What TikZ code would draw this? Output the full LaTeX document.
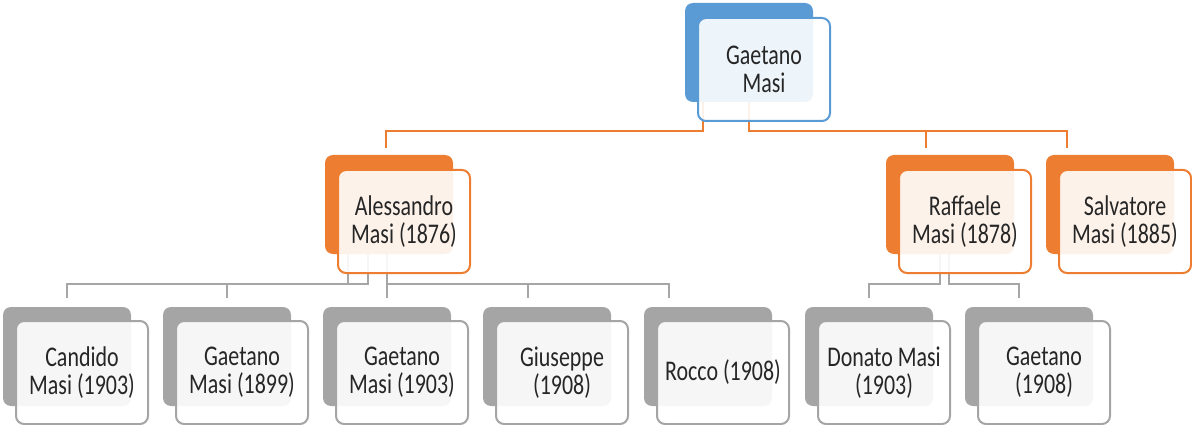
\documentclass[tikz,border=0pt]{standalone}
\usepackage{fontspec}
\setmainfont{Carlito}[FakeStretch=0.77]
\usetikzlibrary{calc}
\definecolor{cblue}{HTML}{5B9BD5}
\definecolor{corange}{HTML}{ED7D31}
\definecolor{cgray}{HTML}{A5A5A5}
\definecolor{cline}{HTML}{A6A6A6}
\definecolor{txt}{HTML}{262626}
\pgfdeclarelayer{background}
\pgfsetlayers{background,main}
\tikzset{
  backbox/.style={draw=none, fill=#1, rounded corners=8pt, minimum width=128pt,
    minimum height=99pt, inner sep=0pt, outer sep=0pt, anchor=north west},
  frontbox/.style={draw=#1, line width=2pt, fill=white, fill opacity=0.9, text opacity=1,
    rounded corners=8pt, minimum width=132pt, minimum height=103pt, inner sep=0pt,
    outer sep=0pt, anchor=north west, align=center, text=txt,
    font=\fontsize{28.5}{28.3}\selectfont},
  oline/.style={draw=corange, line width=2.3pt},
  gline/.style={draw=cline, line width=2.5pt},
}
\begin{document}
\begin{tikzpicture}[x=1pt,y=-1pt]
\useasboundingbox (0,0) rectangle (1192,425);
% top
\node[backbox=cblue] (tb) at (685,3) {};
\node[frontbox=cblue] (t) at (698,18) {Gaetano\\Masi};
% level 1
\node[backbox=corange] (ab) at (325,155) {};
\node[frontbox=corange] (a) at (338,170) {Alessandro\\Masi (1876)};
\node[backbox=corange] (rb) at (886,155) {};
\node[frontbox=corange] (r) at (899,170) {Raffaele\\Masi (1878)};
\node[backbox=corange] (sb) at (1046,155) {};
\node[frontbox=corange] (s) at (1059,170) {Salvatore\\Masi (1885)};
% level 2
\node[backbox=cgray] (c1b) at (3,307) {};
\node[frontbox=cgray] (c1) at (16,321) {Candido\\Masi (1903)};
\node[backbox=cgray] (c2b) at (163,307) {};
\node[frontbox=cgray] (c2) at (176,321) {Gaetano\\Masi (1899)};
\node[backbox=cgray] (c3b) at (323,307) {};
\node[frontbox=cgray] (c3) at (336,321) {Gaetano\\Masi (1903)};
\node[backbox=cgray] (c4b) at (483,307) {};
\node[frontbox=cgray] (c4) at (496,321) {Giuseppe\\(1908)};
\node[backbox=cgray] (c5b) at (644,307) {};
\node[frontbox=cgray] (c5) at (657,321) {Rocco (1908)};
\node[backbox=cgray] (c6b) at (805,307) {};
\node[frontbox=cgray] (c6) at (818,321) {Donato Masi\\(1903)};
\node[backbox=cgray] (c7b) at (965,307) {};
\node[frontbox=cgray] (c7) at (978,321) {Gaetano\\(1908)};
% connectors
\coordinate (bus1) at (0,131);
\coordinate (bus2) at (0,284);
\coordinate (t1) at ([xshift=-46pt]tb.center);
\coordinate (t2) at (tb.center);
\coordinate (a1) at ([xshift=-41pt]ab.center);
\coordinate (a2) at ([xshift=-21pt]ab.center);
\coordinate (a3) at ([xshift=-2pt]ab.center);
\coordinate (r1) at ([xshift=-10pt]rb.center);
\coordinate (r2) at ([xshift=-1pt]rb.center);
\begin{pgfonlayer}{background}
\draw[oline] (t1) -- (t1 |- bus1) -| ([xshift=-3pt,yshift=7pt]ab.north);
\draw[oline] (t2) -- (t2 |- bus1) -| ([xshift=-43pt,yshift=7pt]sb.north);
\draw[oline] (t2 |- bus1) -| ([xshift=-24pt,yshift=7pt]rb.north);
\draw[gline] (a1) -- (a1 |- bus2) -| ([yshift=9pt]c1b.north);
\draw[gline] (a1 |- bus2) -| ([yshift=9pt]c2b.north);
\draw[gline] (a2) -- (a2 |- bus2) -- (a1 |- bus2);
\draw[gline] (a3) -- ([yshift=9pt]c3b.north);
\draw[gline] (a3 |- bus2) -| ([xshift=-19pt,yshift=9pt]c4b.north);
\draw[gline] (a3 |- bus2) -| ([xshift=-39pt,yshift=9pt]c5b.north);
\draw[gline] (r1) -- (r1 |- bus2) -| ([yshift=9pt]c6b.north);
\draw[gline] (r2) -- (r2 |- bus2) -| ([xshift=-10pt,yshift=9pt]c7b.north);
\end{pgfonlayer}
\end{tikzpicture}
\end{document}
